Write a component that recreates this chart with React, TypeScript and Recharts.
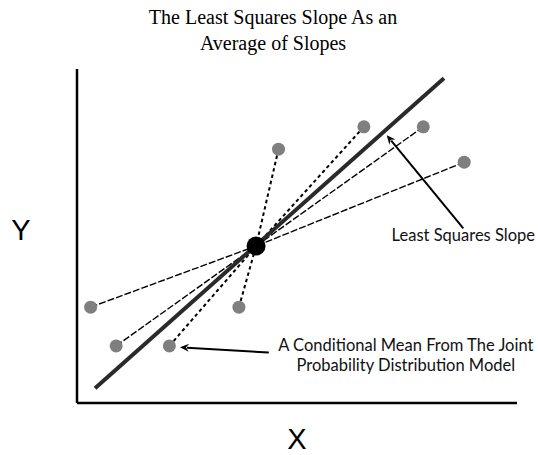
import React from 'react';
import { ComposedChart, Line, Scatter, XAxis, YAxis, ReferenceLine, Label } from 'recharts';

const titleLines = ['The Least Squares Slope As an', 'Average of Slopes'];
const xLabel = 'X';
const yLabel = 'Y';

const centerPoint = [{ x: 40.7, y: 47.0 }];
const outerPoints = [
  { x: 3.1, y: 28.7 },
  { x: 8.9, y: 17.1 },
  { x: 21.0, y: 17.1 },
  { x: 36.8, y: 28.7 },
  { x: 45.8, y: 76.0 },
  { x: 65.2, y: 82.7 },
  { x: 78.7, y: 82.7 },
  { x: 88.0, y: 72.1 },
];
const spokeKinds = ['long', 'long', 'short', 'short', 'short', 'short', 'long', 'long'];
const lsLine = [
  { x: 4.1, y: 4.4 },
  { x: 83.4, y: 97.2 },
];
const lsArrow = [
  { x: 87.8, y: 52.3 },
  { x: 70.4, y: 80.2 },
];
const cmArrow = [
  { x: 43.6, y: 15.1 },
  { x: 23.4, y: 16.7 },
];
const lsArrowText = ['Least Squares Slope'];
const cmArrowText = ['A Conditional Mean From The Joint', 'Probability Distribution Model'];

const W = 538;
const H = 455;
const NOTE_FONT = 'Lato, "Open Sans", sans-serif';
const AXIS_FONT = '"Liberation Sans", Arial, sans-serif';

function makeArrow(lines: string[], dx: number, dy: number, lineGap: number) {
  return (props: any) => {
    const { x1, y1, x2, y2 } = props;
    const ang = Math.atan2(y2 - y1, x2 - x1);
    const len = 9;
    const half = 4;
    const bx = x2 - len * Math.cos(ang);
    const by = y2 - len * Math.sin(ang);
    const px = -Math.sin(ang) * half;
    const py = Math.cos(ang) * half;
    return (
      <g>
        <line x1={x1} y1={y1} x2={bx + 2 * Math.cos(ang)} y2={by + 2 * Math.sin(ang)} stroke="#000" strokeWidth={2} />
        <polygon
          points={`${x2},${y2} ${bx + px},${by + py} ${bx + 3 * Math.cos(ang)},${by + 3 * Math.sin(ang)} ${bx - px},${by - py}`}
          fill="#000"
        />
        {lines.map((t, i) => (
          <text
            key={i}
            x={x1 + dx}
            y={y1 + dy + i * lineGap}
            textAnchor="middle"
            fontFamily={NOTE_FONT}
            fontSize={16.5}
            fill="#111"
          >
            {t}
          </text>
        ))}
      </g>
    );
  };
}

const YLabelContent = (props: any) => {
  const vb = props.viewBox || {};
  return (
    <text
      x={vb.x + vb.width - 56}
      y={vb.y + vb.height / 2 + 4}
      textAnchor="middle"
      fontFamily={AXIS_FONT}
      fontSize={29}
      fill="#000"
    >
      {yLabel}
    </text>
  );
};

const XLabelContent = (props: any) => {
  const vb = props.viewBox || {};
  return (
    <text
      x={vb.x + vb.width / 2}
      y={vb.y + 46}
      textAnchor="middle"
      fontFamily={AXIS_FONT}
      fontSize={29}
      fill="#000"
    >
      {xLabel}
    </text>
  );
};

const grayDot = (p: any) => <circle cx={p.cx} cy={p.cy} r={6.5} fill="#7f7f7f" />;
const blackDot = (p: any) => <circle cx={p.cx} cy={p.cy} r={9.5} fill="#000" />;

export default function App() {
  return (
    <div style={{ position: 'absolute', left: 0, top: 0, width: W, height: H, background: '#fff' }}>
      <div
        style={{
          position: 'absolute',
          left: 0,
          top: 4,
          width: 546,
          textAlign: 'center',
          fontFamily: '"Liberation Serif", "Times New Roman", serif',
          fontSize: 20,
          lineHeight: '26px',
          color: '#000',
        }}
      >
        {titleLines.map((t, i) => (
          <div key={i}>{t}</div>
        ))}
      </div>
      <ComposedChart
        width={W}
        height={H}
        margin={{ top: 69, left: 76, right: 21, bottom: 51 }}
        style={{ position: 'absolute', left: 0, top: 0 }}
      >
        <XAxis
          dataKey="x"
          type="number"
          domain={[0, 100]}
          tick={false}
          tickLine={false}
          height={1}
          axisLine={{ stroke: '#000', strokeWidth: 2.5 }}
        >
          <Label content={XLabelContent} />
        </XAxis>
        <YAxis
          dataKey="y"
          type="number"
          domain={[0, 100]}
          tick={false}
          tickLine={false}
          width={1}
          axisLine={{ stroke: '#000', strokeWidth: 2.5 }}
        >
          <Label content={YLabelContent} />
        </YAxis>
        {outerPoints.map((p, i) => (
          <Line
            key={'spoke' + i}
            data={[p, centerPoint[0]]}
            dataKey="y"
            type="linear"
            stroke="#000"
            strokeWidth={spokeKinds[i] === 'long' ? 1.4 : 2}
            strokeDasharray={spokeKinds[i] === 'long' ? '7 2' : '3.5 3'}
            dot={false}
            activeDot={false}
            isAnimationActive={false}
          />
        ))}
        <Line
          data={lsLine}
          dataKey="y"
          type="linear"
          stroke="#2a2a2a"
          strokeWidth={4}
          dot={false}
          activeDot={false}
          isAnimationActive={false}
        />
        <ReferenceLine
          segment={lsArrow}
          shape={makeArrow(lsArrowText, 0, 13, 20)}
          ifOverflow="visible"
        />
        <ReferenceLine
          segment={cmArrow}
          shape={makeArrow(cmArrowText, 137, -2, 20)}
          ifOverflow="visible"
        />
        <Scatter data={outerPoints} shape={grayDot} isAnimationActive={false} />
        <Scatter data={centerPoint} shape={blackDot} isAnimationActive={false} />
      </ComposedChart>
    </div>
  );
}
